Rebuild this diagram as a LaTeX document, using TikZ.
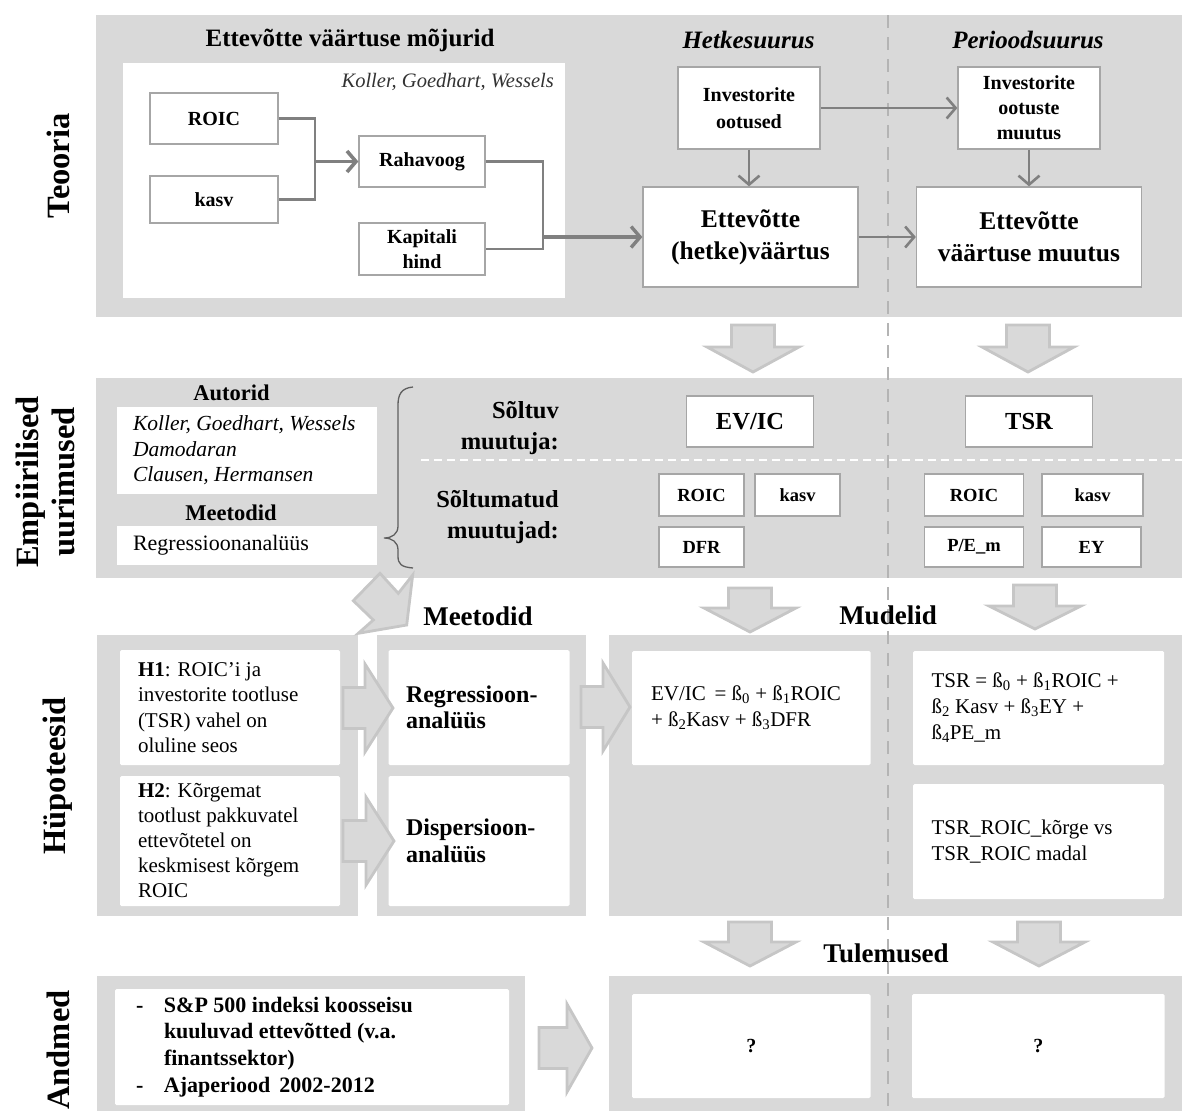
\documentclass[tikz,border=0pt]{standalone}
\usepackage{fontspec}
\setmainfont{Liberation Serif}
\usetikzlibrary{arrows.meta}
\definecolor{bggray}{HTML}{D9D9D9}
\definecolor{boxline}{HTML}{A6A6A6}
\definecolor{linegray}{HTML}{808080}
\definecolor{arrowedge}{HTML}{C6C6C6}
\definecolor{sepgray}{HTML}{B4B4B4}
\definecolor{bracegray}{HTML}{5F5F5F}
\newcommand{\setfs}[2]{\fontsize{#1}{#2}\selectfont}
% block arrows: x, top, neck, tip  /  start, neck, tip, y
\newcommand{\downblock}[4]{\draw[blockarrow] ({#1-21.5},#2) -- ({#1+21.5},#2) -- ({#1+21.5},#3) -- ({#1+46},#3) -- (#1,#4) -- ({#1-46},#3) -- ({#1-21.5},#3) -- cycle;}
\newcommand{\rightblock}[4]{\draw[blockarrow] (#1,{#4-20.5}) -- (#2,{#4-20.5}) -- (#2,{#4-44}) -- (#3,#4) -- (#2,{#4+44}) -- (#2,{#4+20.5}) -- (#1,{#4+20.5}) -- cycle;}
\begin{document}
\begin{tikzpicture}[x=1pt,y=-1pt,
  vlabel/.style={rotate=90,align=center,font=\setfs{32.5}{36}\bfseries},
  title/.style={font=\setfs{25}{30}\bfseries},
  subtitle/.style={font=\setfs{27}{32}\bfseries},
  head2/.style={font=\setfs{22.5}{27}\bfseries},
  varbox/.style={draw=boxline,line width=1.3pt,fill=white,inner sep=0pt,align=center,font=\setfs{20}{25}\bfseries},
  bigbox/.style={varbox,font=\setfs{25.5}{32}\bfseries},
  smallvar/.style={varbox,font=\setfs{18.5}{22}\bfseries},
  card/.style={fill=white,rounded corners=1.5pt,inner sep=0pt},
  cardtext/.style={anchor=west,align=left,inner sep=0pt,font=\setfs{21}{25.3}},
  rowlabel/.style={anchor=east,align=right,inner sep=0pt,font=\setfs{24.5}{30.5}\bfseries},
  link/.style={draw=linegray,line width=2.6pt},
  linkarrow/.style={link,-{Straight Barb[length=9pt,width=21pt]}},
  blockarrow/.style={fill=bggray,draw=arrowedge,line width=2.8pt},
  sepline/.style={draw=sepgray,line width=2.2pt,dash pattern=on 13pt off 9pt},
]
\useasboundingbox (0,0) rectangle (1182,1111);

% panels
\fill[bggray] (96,15) rectangle (1182,317);
\fill[white] (123,63) rectangle (565,298);
\fill[bggray] (96,378) rectangle (1182,578);
\fill[bggray] (96.5,635) rectangle (358,916);
\fill[bggray] (377,635) rectangle (585.5,916);
\fill[bggray] (609,635) rectangle (1182,916);
\fill[bggray] (96.5,976) rectangle (525,1111);
\fill[bggray] (609,976) rectangle (1182,1111);
\draw[sepline] (888,15) -- (888,1111);

% Teooria
\node[vlabel] (teooria) at (58,166) {Teooria};
\node[title] (mojurid) at (350,40) {Ettevõtte väärtuse mõjurid};
\node[title,font=\setfs{25}{30}\bfseries\itshape] (hetk) at (748.5,40) {Hetkesuurus};
\node[title,font=\setfs{25}{30}\bfseries\itshape] (period) at (1028,40) {Perioodsuurus};
\node[anchor=east,inner sep=0pt,text=black!80,font=\setfs{20.5}{24}\itshape] (koller) at (554,82) {Koller, Goedhart, Wessels};
\node[varbox,minimum width=128pt,minimum height=51pt] (roic) at (214,118.5) {ROIC};
\node[varbox,minimum width=128pt,minimum height=47pt] (kasv) at (214,199.5) {kasv};
\node[varbox,minimum width=126pt,minimum height=51pt] (rahavoog) at (422,161.5) {Rahavoog};
\node[varbox,minimum width=126pt,minimum height=52pt] (kapital) at (422,249) {Kapitali\\hind};
\node[varbox,minimum width=142pt,minimum height=82pt,font=\setfs{20}{27}\bfseries] (invoot) at (749,108) {Investorite\\ootused};
\node[varbox,minimum width=142pt,minimum height=82pt] (invmuut) at (1029,108) {Investorite\\ootuste\\muutus};
\node[bigbox,minimum width=215pt,minimum height=100pt] (evhetk) at (750.5,237) {Ettevõtte\\(hetke)väärtus};
\node[bigbox,minimum width=225pt,minimum height=100pt] (evmuut) at (1029,237) {Ettevõtte\\väärtuse muutus};
\coordinate (j1) at (315,161.5);
\coordinate (j2) at (543,237);
\draw[link] (roic.east) -| (j1) |- (kasv.east);
\draw[linkarrow,line width=3.6pt] (j1) -- (rahavoog.west);
\draw[link] (rahavoog.east) -| (j2) |- (kapital.east);
\draw[linkarrow,line width=3.4pt] (j2) -- (evhetk.west);
\draw[linkarrow] (invoot.east) -- (invmuut.west);
\draw[linkarrow] (invoot.south) -- (invoot.south |- evhetk.north);
\draw[linkarrow] (evhetk.east) -- (evmuut.west);
\draw[linkarrow] (invmuut.south) -- (invmuut.south |- evmuut.north);

% Empiirilised uurimused
\node[vlabel] (empiir) at (45,482) {Empiirilised\\uurimused};
\node[head2] (autorid) at (231.5,393) {Autorid};
\node[card,rounded corners=0pt,minimum width=260pt,minimum height=87pt] (autbox) at (247,450.5) {};
\node[cardtext,font=\setfs{21.5}{25.5}\itshape] (auttext) at ([xshift=16pt]autbox.west) {Koller, Goedhart, Wessels\\Damodaran\\Clausen, Hermansen};
\node[head2] (meet1) at (231,513) {Meetodid};
\node[card,rounded corners=0pt,minimum width=260pt,minimum height=39pt] (metbox) at (247,545.5) {};
\node[cardtext,font=\setfs{22}{26}] (mettext) at ([xshift=16pt]metbox.west) {Regressioonanalüüs};
\draw[bracegray,line width=1.3pt] (413,387) .. controls (401,388) and (398,395) .. (398,405) -- (398,526) .. controls (398,534) and (392,538) .. (384,538) .. controls (392,538) and (398,542) .. (398,550) -- (398,556) .. controls (398,564) and (401,567) .. (413,568);
\node[rowlabel] (soltuv) at (559,428) {Sõltuv\\muutuja:};
\node[rowlabel,font=\setfs{24.5}{31}\bfseries] (soltumatud) at (559,517.5) {Sõltumatud\\muutujad:};
\draw[white,line width=1.5pt,dash pattern=on 8pt off 5pt] (421,460) -- (1182,460);
\node[bigbox,font=\setfs{24.5}{30}\bfseries,minimum width=127.5pt,minimum height=51pt] (evic) at (750,421.5) {EV/IC};
\node[bigbox,font=\setfs{24.5}{30}\bfseries,minimum width=126.5pt,minimum height=51pt] (tsr) at (1029,421.5) {TSR};
\node[smallvar,minimum width=85pt,minimum height=42pt] (roica) at (701.5,495) {ROIC};
\node[smallvar,minimum width=85pt,minimum height=42pt] (kasva) at (797.5,495) {kasv};
\node[smallvar,minimum width=85pt,minimum height=40pt] (dfr) at (701.5,547) {DFR};
\node[smallvar,minimum width=99.5pt,minimum height=42pt] (roicb) at (974,495) {ROIC};
\node[smallvar,minimum width=101pt,minimum height=42pt] (kasvb) at (1092.5,495) {kasv};
\node[smallvar,minimum width=99.5pt,minimum height=40pt] (pem) at (974,547) {P/E\_m};
\node[smallvar,minimum width=99pt,minimum height=40pt] (ey) at (1091.5,547) {EY};

% Hüpoteesid, meetodid, mudelid
\node[vlabel] (hypo) at (58,776) {Hüpoteesid};
\node[subtitle] (meet2) at (478,616) {Meetodid};
\node[subtitle] (mudelid) at (888,615) {Mudelid};
\node[card,minimum width=220pt,minimum height=115pt] (h1) at (230,707.5) {};
\node[cardtext] (h1text) at ([xshift=18pt]h1.west) {\textbf{H1}: ROIC’i ja\\investorite tootluse\\(TSR) vahel on\\oluline seos};
\node[card,minimum width=220pt,minimum height=130pt] (h2) at (230,841) {};
\node[cardtext,font=\setfs{21}{25}] (h2text) at ([xshift=18pt]h2.west) {\textbf{H2}: Kõrgemat\\tootlust pakkuvatel\\ettevõtetel on\\keskmisest kõrgem\\ROIC};
\node[card,minimum width=181pt,minimum height=115pt] (reg) at (479,707.5) {};
\node[cardtext,font=\setfs{24}{26.5}\bfseries] (regtext) at ([xshift=17.5pt]reg.west) {Regressioon-\\analüüs};
\node[card,minimum width=181pt,minimum height=130pt] (disp) at (479,841) {};
\node[cardtext,font=\setfs{24}{26.5}\bfseries] (disptext) at ([xshift=17.5pt]disp.west) {Dispersioon-\\analüüs};
\node[card,minimum width=238.5pt,minimum height=114pt] (evmodel) at (751.25,708) {};
\node[cardtext,font=\setfs{21}{26}] (evmodeltext) at ([xshift=19pt]evmodel.west) {EV/IC\, = ß\textsubscript{0} + ß\textsubscript{1}ROIC\\+ ß\textsubscript{2}Kasv + ß\textsubscript{3}DFR};
\node[card,minimum width=251pt,minimum height=114pt] (tsrmodel) at (1038.5,708) {};
\node[cardtext,font=\setfs{21}{26}] (tsrmodeltext) at ([xshift=18.6pt]tsrmodel.west) {TSR = ß\textsubscript{0} + ß\textsubscript{1}ROIC +\\ß\textsubscript{2} Kasv + ß\textsubscript{3}EY +\\ß\textsubscript{4}PE\_m};
\node[card,minimum width=251pt,minimum height=115pt] (tsrroic) at (1038.5,841.5) {};
\node[cardtext,font=\setfs{21}{26}] (tsrroictext) at ([xshift=18.6pt]tsrroic.west) {TSR\_ROIC\_kõrge vs\\TSR\_ROIC madal};

% Andmed, tulemused
\node[vlabel] (andmed) at (58,1050) {Andmed};
\node[subtitle] (tulemused) at (886,953) {Tulemused};
\node[card,minimum width=394pt,minimum height=116pt] (data) at (312,1047) {};
\node[cardtext,font=\setfs{22}{26.7}\bfseries] (datatext) at ([xshift=21pt]data.west) {\makebox[28pt][l]{-}S\&P 500 indeksi koosseisu\\\hspace*{28pt}kuuluvad ettevõtted (v.a.\\\hspace*{28pt}finantssektor)\\\makebox[28pt][l]{-}Ajaperiood\, 2002-2012};
\node[card,minimum width=238.5pt,minimum height=104pt,font=\setfs{20}{24}\bfseries] (res1) at (751.25,1046) {?};
\node[card,minimum width=252.5pt,minimum height=104pt,font=\setfs{20}{24}\bfseries] (res2) at (1038.25,1046) {?};

% block arrows
\downblock{753}{325}{347}{372}
\downblock{1028}{325}{347}{372}
\downblock{750}{588}{608}{632}
\downblock{1035}{585}{606}{629}
\downblock{750}{922}{942}{966}
\downblock{1039}{922}{942}{966}
\rightblock{343}{365}{393}{708}
\rightblock{343}{366}{394}{841}
\rightblock{581}{603}{630}{707}
\rightblock{539}{567}{592}{1048}
\draw[blockarrow] (380,573.3) -- (398.3,593.3) -- (412.7,575) -- (406.7,625) -- (358.3,633.3) -- (373.3,620) -- (353.3,600.7) -- cycle;
\end{tikzpicture}
\end{document}
